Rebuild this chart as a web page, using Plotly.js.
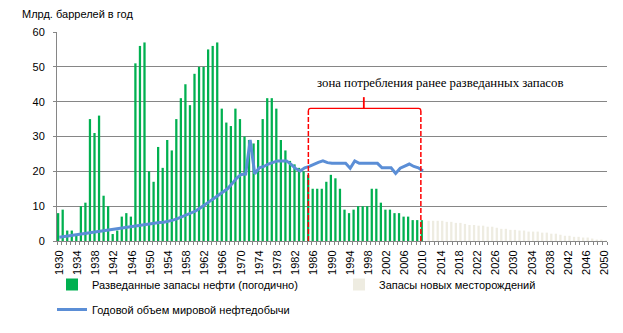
<!DOCTYPE html>
<html>
<head>
<meta charset="utf-8">
<script src="https://cdn.plot.ly/plotly-3.0.1.min.js"></script>
<style>
  html, body { margin: 0; padding: 0; background: #fff; }
  #chart { width: 623px; height: 333px; }
</style>
</head>
<body>
<div id="chart"></div>
<script>
// ---- Data ----
const yearsDiscovered = [1930,1931,1932,1933,1934,1935,1936,1937,1938,1939,
  1940,1941,1942,1943,1944,1945,1946,1947,1948,1949,
  1950,1951,1952,1953,1954,1955,1956,1957,1958,1959,
  1960,1961,1962,1963,1964,1965,1966,1967,1968,1969,
  1970,1971,1972,1973,1974,1975,1976,1977,1978,1979,
  1980,1981,1982,1983,1984,1985,1986,1987,1988,1989,
  1990,1991,1992,1993,1994,1995,1996,1997,1998,1999,
  2000,2001,2002,2003,2004,2005,2006,2007,2008,2009,2010];

const discoveredReserves = [8,9,3,3,2,10,11,35,31,36,
  13,10,2,3,7,8,7,51,56,57,
  20,17,27,21,29,26,35,41,45,39,
  48,50,50,55,56,57,38,34,33,38,
  35,30,29,28,29,35,41,41,38,29,
  26,23,22,21,20,19,15,15,15,17,
  19,18,15,9,8,9,10,10,10,15,
  15,11,9,9,8,8,7,7,6,6,6];

const yearsNew = [2011,2012,2013,2014,2015,2016,2017,2018,2019,2020,
  2021,2022,2023,2024,2025,2026,2027,2028,2029,2030,
  2031,2032,2033,2034,2035,2036,2037,2038,2039,2040,
  2041,2042,2043,2044,2045,2046,2047,2048,2049,2050];

const newFieldReserves = [5.8,5.8,5.8,5.8,5.5,5.5,5.2,5.2,4.9,4.6,
  4.6,4.4,4.4,4.1,4.1,3.8,3.5,3.5,3.2,3.2,
  3.0,3.0,2.7,2.7,2.7,2.4,2.4,2.1,2.1,1.8,
  1.5,1.5,1.2,1.2,1.0,1.0,0.7,0.4,0.4,0.2];

const yearsProduction = yearsDiscovered;
const annualProduction = [1.1,1.3,1.5,1.7,1.9,2.1,2.3,2.5,2.6,2.8,
  3.0,3.2,3.4,3.6,3.8,4.0,4.2,4.4,4.6,4.8,
  5.0,5.1,5.3,5.4,5.6,6.0,6.4,6.9,7.5,8.0,
  8.6,9.5,10.5,11.3,12.2,13.1,14.0,15.0,16.4,18.0,
  19.1,19.2,29.0,19.3,21.0,21.4,22.1,22.6,23.0,23.0,
  23.0,22.0,20.8,20.1,21.0,21.4,22.1,22.6,23.0,22.5,
  22.3,22.3,22.3,22.3,20.9,23.0,22.3,22.3,22.3,22.3,
  22.3,21.0,21.0,21.0,19.4,20.9,21.5,22.1,21.4,21.0,20.1];

const tickYears = [1930,1934,1938,1942,1946,1950,1954,1958,1962,1966,1970,1974,
  1978,1982,1986,1990,1994,1998,2002,2006,2010,2014,2018,2022,2026,2030,2034,
  2038,2042,2046,2050];
const tickLabels = tickYears.map(String);

const yTicks = [0,10,20,30,40,50,60];

const names = {
  discovered: "Разведанные запасы нефти (погодично)",
  newFields: "Запасы новых месторождений",
  production: "Годовой объем мировой нефтедобычи",
  yTitle: "Млрд. баррелей в год",
  zone: "зона потребления ранее разведанных запасов"
};

// ---- Traces ----
const grey = "#868686";
const sans = "Liberation Sans, Arial, sans-serif";

const traces = [
  {
    type: "bar", x: yearsDiscovered, y: discoveredReserves, name: names.discovered,
    width: 0.5, offset: -0.5,
    marker: { color: "#00b050", line: { width: 0 } }, legend: "legend", hoverinfo: "x+y"
  },
  {
    type: "bar", x: yearsNew, y: newFieldReserves, name: names.newFields,
    width: 0.5, offset: 0,
    marker: { color: "#eeece1", line: { width: 0 } }, legend: "legend3", hoverinfo: "x+y"
  },
  {
    type: "scatter", mode: "lines", x: yearsProduction, y: annualProduction,
    name: names.production, line: { color: "#5b8ed6", width: 3 },
    legend: "legend2", hoverinfo: "x+y"
  }
];

// bracket geometry (data coords)
const bx0 = 1984.8, bx1 = 2009.55, by = 38.1, bmid = 1997.0;
const red = "#ff0000";

const legendBase = {
  orientation: "h", xref: "container", yref: "container",
  xanchor: "left", yanchor: "top",
  font: { family: sans, size: 11, color: "#000" },
  bgcolor: "rgba(0,0,0,0)"
};

const layout = {
  width: 623, height: 333,
  margin: { l: 57, r: 16, t: 32, b: 92, pad: 0 },
  paper_bgcolor: "#ffffff", plot_bgcolor: "#ffffff",
  font: { family: sans, size: 11, color: "#000000" },
  barmode: "overlay",
  showlegend: true,
  xaxis: {
    type: "linear", range: [1929.5, 2050.5], fixedrange: true,
    tickmode: "array", tickvals: tickYears, ticktext: tickLabels,
    tickangle: -90, ticks: "", showgrid: false, zeroline: false,
    showline: true, linecolor: grey, linewidth: 1,
    tickfont: { family: sans, size: 11, color: "#000" },
    ticklabelstandoff: 4,
    minor: { tickmode: "linear", tick0: 1929.5, dtick: 1, ticks: "outside",
             ticklen: 3, tickcolor: grey, tickwidth: 1, showgrid: false }
  },
  yaxis: {
    range: [0, 60], fixedrange: true, tickmode: "array", tickvals: yTicks,
    showgrid: true, gridcolor: grey, gridwidth: 1, zeroline: false,
    showline: true, linecolor: grey, linewidth: 1,
    ticks: "outside", ticklen: 3, tickcolor: grey,
    tickfont: { family: sans, size: 11, color: "#000" },
    ticklabelstandoff: 6
  },
  legend: Object.assign({}, legendBase, { x: 52 / 623, y: 1 - 270 / 333 }),
  legend3: Object.assign({}, legendBase, { x: 339 / 623, y: 1 - 270 / 333 }),
  legend2: Object.assign({}, legendBase, { x: 52 / 623, y: 1 - 295 / 333 }),
  annotations: [
    {
      text: names.yTitle, xref: "paper", yref: "paper",
      x: (20 - 57) / 550, y: (241.3 - 14) / 209.3,
      xanchor: "left", yanchor: "middle", showarrow: false,
      font: { family: sans, size: 11, color: "#000" }
    },
    {
      text: names.zone, xref: "x", yref: "y", x: 1986.3, y: 45.3,
      xanchor: "left", yanchor: "middle", showarrow: false,
      font: { family: "Liberation Serif, Times New Roman, serif", size: 12.8, color: "#000" }
    }
  ],
  shapes: [
    { type: "line", xref: "x", yref: "y", x0: bx0, x1: bx0, y0: 0, y1: by - 0.8,
      line: { color: red, width: 1.5, dash: "5px,2px" } },
    { type: "line", xref: "x", yref: "y", x0: bx1, x1: bx1, y0: 0, y1: by - 0.8,
      line: { color: red, width: 1.5, dash: "5px,2px" } },
    { type: "path", xref: "x", yref: "y",
      path: `M${bx0},${by - 0.8} Q${bx0},${by} ${bx0 + 0.5},${by} L${bx1 - 0.5},${by} Q${bx1},${by} ${bx1},${by - 0.8}`,
      line: { color: red, width: 1.3 } },
    { type: "line", xref: "x", yref: "y", x0: bmid, x1: bmid, y0: by, y1: 41.3,
      line: { color: red, width: 1.8 } }
  ]
};

Plotly.newPlot("chart", traces, layout, { displayModeBar: false, staticPlot: true });
</script>
</body>
</html>
